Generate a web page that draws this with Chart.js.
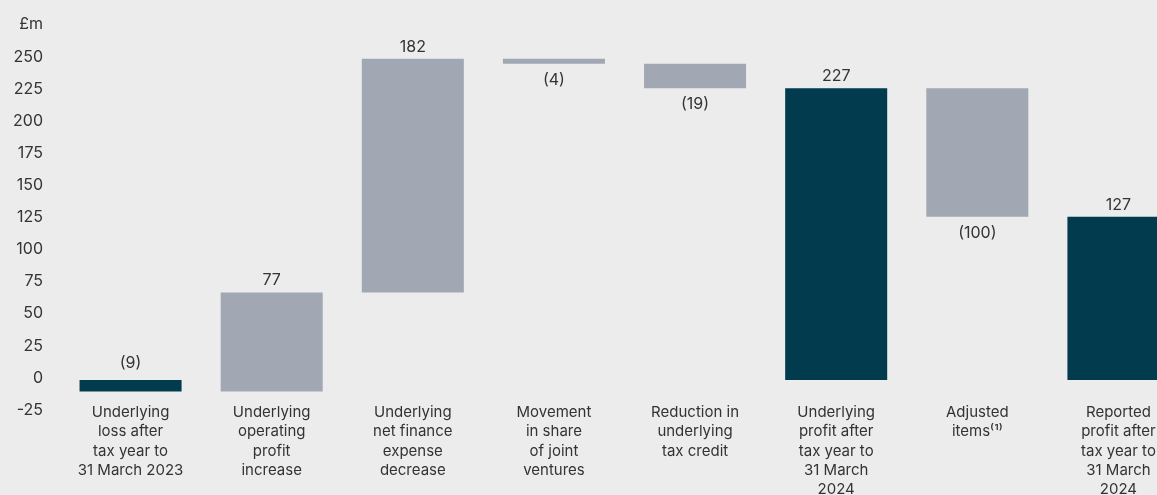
<!DOCTYPE html>
<html>
<head>
<meta charset="utf-8">
<script src="https://cdn.jsdelivr.net/npm/chart.js@4"></script>
<style>
  html, body { margin: 0; padding: 0; background: #ececec; overflow: hidden; }
  canvas { display: block; }
</style>
</head>
<body>
<canvas id="myChart" width="1189" height="495"></canvas>
<script>
// categories (multi-line labels)
const categories = [
  ['Underlying', 'loss after', 'tax year to', '31 March 2023'],
  ['Underlying', 'operating', 'profit', 'increase'],
  ['Underlying', 'net finance', 'expense', 'decrease'],
  ['Movement', 'in share', 'of joint', 'ventures'],
  ['Reduction in', 'underlying', 'tax credit'],
  ['Underlying', 'profit after', 'tax year to', '31 March', '2024'],
  ['Adjusted', 'items\u207D\u00B9\u207E'],
  ['Reported', 'profit after', 'tax year to', '31 March', '2024']
]
// £m movements; totals start from zero
const changes = [-9, 77, 182, -4, -19, 227, -100, 127]
const isTotal = [true, false, false, false, false, true, false, true]
const yTicks = [-25, 0, 25, 50, 75, 100, 125, 150, 175, 200, 225, 250, 275]

const dark = '#023b4e'
const grey = '#a1a8b3'
const textColor = '#333333'

// build floating bars from the running total
let running = 0
const ranges = changes.map(function (v, i) {
  if (isTotal[i]) {
    running = v
    return [0, v]
  }
  const start = running
  running = running + v
  return [start, running]
})

const fmt = function (v) {
  return v < 0 ? '(' + Math.abs(v) + ')' : String(v)
}

const valueLabels = {
  id: 'valueLabels',
  afterDatasetsDraw(chart) {
    const ctx = chart.ctx
    const meta = chart.getDatasetMeta(0)
    ctx.save()
    ctx.font = '16px Inter'
    ctx.fillStyle = textColor
    ctx.textAlign = 'center'
    ctx.textBaseline = 'middle'
    meta.data.forEach(function (bar, i) {
      const top = Math.min(bar.y, bar.base)
      const bottom = Math.max(bar.y, bar.base)
      if (isTotal[i]) {
        ctx.fillText(fmt(changes[i]), bar.x, top - (changes[i] < 0 ? 17 : 12))
      } else if (changes[i] > 0) {
        ctx.fillText(fmt(changes[i]), bar.x, top - 12)
      } else {
        ctx.fillText(fmt(changes[i]), bar.x, bottom + 16)
      }
    })
    ctx.restore()
  }
}

var ctx = document.getElementById('myChart')
var myChart = new Chart(ctx, {
  type: 'bar',
  data: {
    labels: categories,
    datasets: [
      {
        data: ranges,
        backgroundColor: isTotal.map(function (t) { return t ? dark : grey }),
        borderWidth: 0,
        borderSkipped: false,
        barPercentage: 0.723,
        categoryPercentage: 1
      }
    ]
  },
  options: {
    responsive: false,
    maintainAspectRatio: false,
    animation: false,
    layout: { padding: { top: 24, left: 0, right: 0, bottom: 0 } },
    plugins: {
      legend: { display: false },
      tooltip: { enabled: false }
    },
    scales: {
      x: {
        grid: { display: false, drawTicks: false },
        border: { display: false },
        ticks: {
          color: textColor,
          font: { family: 'Inter', size: 15, lineHeight: '19.2px' },
          padding: 0,
          maxRotation: 0,
          autoSkip: false
        },
        afterFit(scale) { scale.height = 92 }
      },
      y: {
        // the -25 label sits below the plot, where the category labels start
        min: -18,
        max: 275,
        grid: { display: false, drawTicks: false },
        border: { display: false },
        afterBuildTicks(scale) {
          scale.ticks = yTicks.map(function (v) { return { value: v } })
        },
        ticks: {
          color: textColor,
          font: { family: 'Inter', size: 16 },
          padding: 17,
          labelOffset: -2,
          callback: function (v) { return v === 275 ? '£m' : v }
        },
        afterFit(scale) { scale.width = 60 }
      }
    }
  },
  plugins: [valueLabels]
})
</script>
</body>
</html>
